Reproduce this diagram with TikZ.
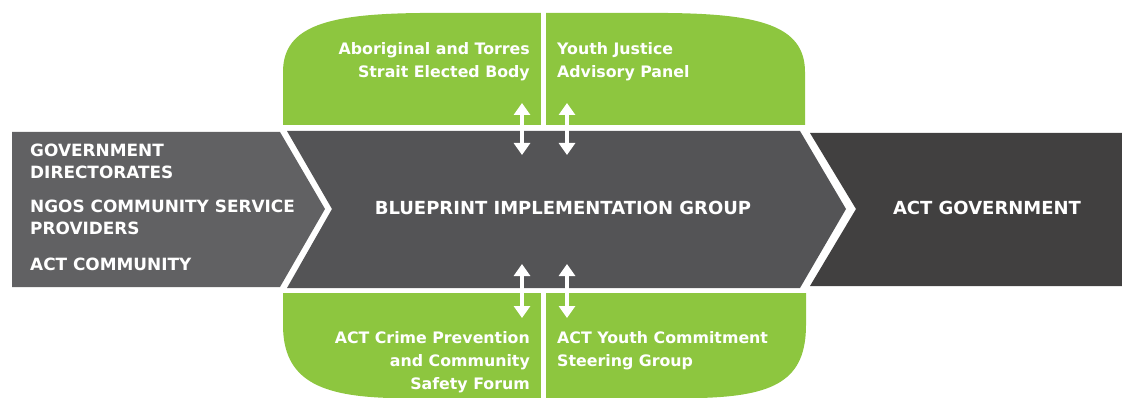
\documentclass[tikz,border=0pt]{standalone}
\usepackage{fontspec}
\setmainfont{DejaVu Sans}
\usetikzlibrary{arrows.meta}
\definecolor{leafgreen}{RGB}{141,198,63}
\definecolor{bandleft}{RGB}{97,97,99}
\definecolor{bandmid}{RGB}{84,84,86}
\definecolor{bandright}{RGB}{65,64,64}
\begin{document}
\begin{tikzpicture}[x=1pt,y=-1pt,
  lbl/.style={text=white,inner sep=0pt},
  caps/.style={lbl,font=\bfseries\fontsize{16.9}{20}\selectfont},
  title/.style={lbl,font=\bfseries\fontsize{18}{21}\selectfont},
  panel/.style={lbl,font=\bfseries\fontsize{15.8}{19}\selectfont},
  link/.style={white,line width=4.5pt,
    {Triangle[width=16pt,length=12pt]}-{Triangle[width=16pt,length=12pt]}}]
\useasboundingbox (0,0) rectangle (1122,398);

% green advisory panels above and below the band
\fill[leafgreen] (283,125) -- (283,72) .. controls (283,25) and (330,14) .. (420,13)
  -- (668,13) .. controls (758,14) and (805,25) .. (805,72) -- (805,125) -- cycle;
\fill[leafgreen] (283,293) -- (283,325) .. controls (283,380) and (320,396) .. (390,398)
  -- (700,398) .. controls (775,396) and (806,380) .. (806,325) -- (806,293) -- cycle;
% white dividers between the panels
\fill[white] (541,0) rectangle (546,128);
\fill[white] (541,290) rectangle (546,398);

% the chevron band
\fill[bandleft] (12,132) -- (280,132) -- (325,209) -- (280,287) -- (12,287) -- cycle;
\fill[bandmid] (287,131) -- (800,131) -- (846,209) -- (800,288) -- (287,288) -- (332,209) -- cycle;
\fill[bandright] (810,133) -- (1122,133) -- (1122,286) -- (810,286) -- (856,209) -- cycle;

% inputs
\node[caps,anchor=base west] (in1a) at (30,157) {GOVERNMENT};
\node[caps,anchor=base west] (in1b) at (30,179) {DIRECTORATES};
\node[caps,anchor=base west] (in2a) at (30,213) {NGOS COMMUNITY SERVICE};
\node[caps,anchor=base west] (in2b) at (30,235) {PROVIDERS};
\node[caps,anchor=base west] (in3) at (30,270) {ACT COMMUNITY};

% centre and output
\node[title,anchor=base] (big) at (563,215) {BLUEPRINT IMPLEMENTATION GROUP};
\node[title,anchor=base] (gov) at (987,215) {ACT GOVERNMENT};

% advisory bodies
\node[panel,anchor=base east] (atsi1) at (530,55) {Aboriginal and Torres};
\node[panel,anchor=base east] (atsi2) at (530,78) {Strait Elected Body};
\node[panel,anchor=base west] (yjap1) at (557,55) {Youth Justice};
\node[panel,anchor=base west] (yjap2) at (557,78) {Advisory Panel};
\node[panel,anchor=base east] (crime1) at (530,343) {ACT Crime Prevention};
\node[panel,anchor=base east] (crime2) at (530,366) {and Community};
\node[panel,anchor=base east] (crime3) at (530,389) {Safety Forum};
\node[panel,anchor=base west] (yc1) at (557,343) {ACT Youth Commitment};
\node[panel,anchor=base west] (yc2) at (557,366) {Steering Group};

% two-way links between the panels and the group
\coordinate (atsiEnd) at (522,103);
\coordinate (atsiBig) at (522,155);
\coordinate (yjapEnd) at (567,103);
\coordinate (yjapBig) at (567,155);
\coordinate (crimeBig) at (522,264);
\coordinate (crimeEnd) at (522,318);
\coordinate (ycBig) at (567,264);
\coordinate (ycEnd) at (567,318);
\draw[link] (atsiEnd) -- (atsiBig);
\draw[link] (yjapEnd) -- (yjapBig);
\draw[link] (crimeBig) -- (crimeEnd);
\draw[link] (ycBig) -- (ycEnd);
\end{tikzpicture}
\end{document}
